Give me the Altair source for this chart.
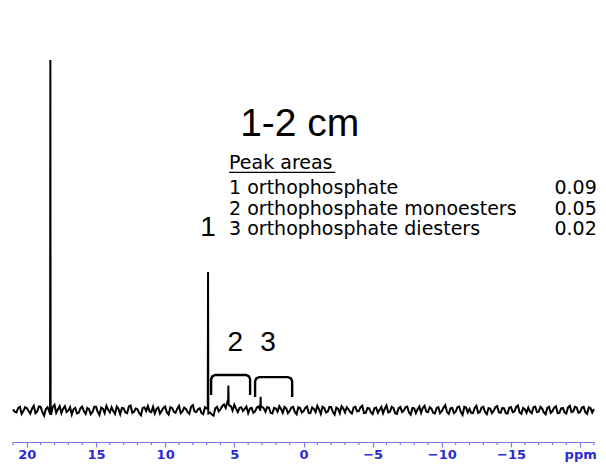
import altair as alt
import numpy as np
import pandas as pd

# ---------------- data ----------------
# baseline spectrum sampled every 0.25 ppm from 21 to -21 (intensity units: big peak = 100)
grid_start = 21.0
grid_step = 0.25
baseline_int = [
    0.2, -0.7, 0.9, -0.3,
    0.5, -1.0, 1.2, -0.4, 0.9, -1.6, 0.8, -1.4, 1.5, 0.2,
    -0.9, 1.1, -0.2, -1.3, 0.6, -0.8, 1.0, -1.1, 0.2, -0.6,
    0.9, -1.4, 0.4, 1.2, -0.7, -0.3, 1.0, -1.2, 0.5, -0.9,
    1.3, -0.5, 0.2, -1.5, 0.8, 1.1, -0.6, -1.0, 0.7, -0.2,
    1.0, -1.3, 0.6, -0.8, 1.2, -0.4, 0.3, -1.1, 1.4, -0.6,
    0.5, -1.2, 0.4, -0.7, -1.6, 0.9, 0.2, 1.6, 2.4, 1.1,
    1.5, -0.6, 0.8, 0.3, -0.9, 0.6, -0.4, 1.0, 0.9, -0.5,
    0.7, -1.0, 0.4, 1.1, -0.8, 0.5, -0.3, 0.9, -1.2, 0.6,
    -0.4, 1.0, -0.9, 0.3, 1.2, -1.1, 0.6, -0.5, 0.8, -1.3,
    0.4, 1.1, -0.7, 0.2, -1.0, 0.9, -0.3, 1.2, -0.8, 0.5,
    -1.2, 0.7, 0.1, -0.9, 1.3, -0.5, 0.6, -1.1, 0.9, -0.2,
    1.0, -1.3, 0.5, 0.2, -0.8, 1.2, -0.6, 0.4, -1.0, 0.8,
    -0.3, 1.4, -1.1, 0.6, -0.5, 1.0, -1.4, 0.7, 0.3, -0.9,
    1.2, -0.6, 0.9, -1.2, 0.4, -0.2, 1.1, -0.8, 0.5, -1.0,
    0.8, -0.4, 1.3, -1.1, 0.2, 0.7, -0.9, 1.0, -0.5, 0.4,
    -1.2, 0.9, -0.3, 1.1, -0.8, 0.6, -1.0, 1.2, -0.4, 0.7,
    -0.6, 0.9, -1.1, 0.5, 0.3,
]
# in-between noise samples (offset 0.125 ppm) for the denser baseline texture
baseline_mid = [
    -0.5, 0.6, -1.1, 0.8,
    -0.3, 0.4, -0.9, 1.0, -0.6, 0.3, -0.5, 0.9, -0.8, 1.1,
    0.4, -0.6, 0.8, 0.2, -1.0, 0.5, -0.4, 0.6, -1.2, 0.9,
    -0.5, 0.7, -0.9, 0.1, 0.8, -1.1, 0.3, 0.6, -0.7, 1.0,
    -0.8, 0.4, -0.9, 0.6, -0.3, -0.4, 0.9, 0.3, -1.0, 0.6,
    -0.7, 0.8, -0.5, 0.4, -0.9, 0.7, -0.6, 0.9, -0.4, 0.2,
    -0.9, 0.8, -1.0, -1.3, 0.5, -0.4, 1.1, 0.6, 1.3, -0.2,
    0.4, 0.6, -0.3, 1.0, 0.4, -0.8, 0.7, -0.2, 0.5, 0.8,
    -0.8, 0.6, -0.5, 0.3, 0.9, -0.9, 0.7, -0.6, 0.8, -0.7,
    0.6, -0.8, 0.7, -0.6, 0.2, 0.9, -0.7, 0.9, -0.6, 0.7,
    -0.9, 0.5, 0.8, -0.6, 0.7, -0.4, 0.8, -0.9, 0.6, -0.7,
    0.5, -0.8, 0.9, 0.4, -0.7, 0.9, -0.9, 0.5, -0.6, 0.8,
    -0.7, 0.6, -0.9, 1.0, 0.6, -0.5, 0.8, -0.8, 0.6, -0.9,
    0.7, -0.6, 0.5, -0.9, 0.8, -0.6, 0.9, -0.7, -0.8, 0.6,
    -0.8, 0.7, -0.6, 0.5, -0.9, 0.8, -0.7, 0.6, -0.9, 0.7,
    -0.6, 0.9, -0.7, 0.6, -0.8, -0.5, 0.8, -0.6, 0.9, -0.7,
    0.6, -0.8, 0.7, -0.9, 0.5, -0.7, 0.8, -0.6, 0.9, -0.8,
    0.7, -0.6, 0.8, -0.7,
]
# sharp peaks
peak_ppm = [18.32, 18.30, 18.28, 6.92, 6.90, 6.88, 5.45, 5.43, 5.41, 3.12, 3.10, 3.08]
peak_int = [0.6, 100.0, -0.8, 0.4, 39.4, -0.6, 2.2, 7.0, 1.8, 1.0, 3.8, 0.8]

# integration brackets: start ppm, end ppm, top, leg bottom
bracket_id = ["2", "3"]
bracket_x1 = [6.68, 3.50]
bracket_x2 = [3.86, 0.82]
bracket_top = [10.0, 9.4]
bracket_bottom = [4.3, 3.7]

# peak number labels
peak_labels = ["1", "2", "3"]
peak_label_ppm = [6.90, 4.94, 2.56]
peak_label_int = [52.0, 19.1, 19.1]

# text block
title_text = "1-2 cm"
title_ppm, title_int = 4.58, 81.7
header_text = "Peak areas"
header_ppm, header_int = 5.38, 70.6
underline_x = [5.38, -2.3]
underline_int = 67.9
item_names = ["1 orthophosphate", "2 orthophosphate monoesters", "3 orthophosphate diesters"]
item_values = ["0.09", "0.05", "0.02"]
item_int = [63.4, 57.4, 51.6]
item_ppm = 5.38
value_ppm = -21.2

major_ticks = [20, 15, 10, 5, 0, -5, -10, -15, -20]
minor_ticks = [v for v in range(-21, 22) if v % 5 != 0]

# ---------------- frames ----------------
n = len(baseline_int)
grid_ppm = list(grid_start - grid_step * np.arange(n))
mid_ppm = list(grid_start - grid_step * (np.arange(len(baseline_mid)) + 0.5))
spec = pd.DataFrame({
    "ppm": grid_ppm + mid_ppm + peak_ppm,
    "intensity": baseline_int + baseline_mid + peak_int,
}).sort_values("ppm").reset_index(drop=True)
spec["order"] = np.arange(len(spec))

rows = []
for b, x1, x2, t, bt in zip(bracket_id, bracket_x1, bracket_x2, bracket_top, bracket_bottom):
    pts = [(x1, bt), (x1, t - 1.2), (x1 - 0.08, t - 0.4), (x1 - 0.3, t),
           (x2 + 0.3, t), (x2 + 0.08, t - 0.4), (x2, t - 1.2), (x2, bt)]
    for k, (px, py) in enumerate(pts):
        rows.append({"b": b, "ppm": px, "intensity": py, "k": k})
brackets = pd.DataFrame(rows)

labels_df = pd.DataFrame({"t": peak_labels, "ppm": peak_label_ppm, "intensity": peak_label_int})
title_df = pd.DataFrame({"t": [title_text], "ppm": [title_ppm], "intensity": [title_int]})
header_df = pd.DataFrame({"t": [header_text], "ppm": [header_ppm], "intensity": [header_int]})
ul_df = pd.DataFrame({"ppm": [underline_x[0]], "ppm2": [underline_x[1]], "intensity": [underline_int]})
items_df = pd.DataFrame({"t": item_names, "ppm": [item_ppm] * 3, "intensity": item_int})
vals_df = pd.DataFrame({"t": item_values, "ppm": [value_ppm] * 3, "intensity": item_int})
minor_df = pd.DataFrame({"ppm": minor_ticks})

# ---------------- scales ----------------
xs = alt.Scale(domain=[21, -21], nice=False, zero=False)
ys = alt.Scale(domain=[-9.14, 105.7], nice=False, zero=False)

AXIS_BLUE = "#7c7ce8"
label_expr = ("datum.value === -20 ? 'ppm' : "
              "(datum.value < 0 ? '\u2212' + abs(datum.value) : '' + datum.value)")

x_axis = alt.Axis(
    values=major_ticks, labelExpr=label_expr, title=None, grid=False,
    domainColor=AXIS_BLUE, domainWidth=1.2,
    tickColor=AXIS_BLUE, tickWidth=1.2, tickSize=5,
    labelColor="#2b2bd6", labelFont="DejaVu Sans", labelFontWeight="bold", labelFontSize=13,
    labelPadding=1, labelOverlap=False, labelBound=False, labelFlush=False,
)

X = alt.X("ppm:Q", scale=xs, axis=x_axis)
Y = alt.Y("intensity:Q", scale=ys, axis=None)

line = alt.Chart(spec).mark_line(color="black", strokeWidth=2, clip=False).encode(
    x=X, y=Y, order="order:Q")

minor = alt.Chart(minor_df).mark_rule(color=AXIS_BLUE, strokeWidth=1.2).encode(
    x=alt.X("ppm:Q", scale=xs), y=alt.value(402), y2=alt.value(405))

br = alt.Chart(brackets).mark_line(color="black", strokeWidth=2.4).encode(
    x=alt.X("ppm:Q", scale=xs), y=alt.Y("intensity:Q", scale=ys), detail="b:N", order="k:Q")

lab = alt.Chart(labels_df).mark_text(font="Liberation Sans", fontSize=28, align="center",
                                    baseline="middle", color="black").encode(
    x=alt.X("ppm:Q", scale=xs), y=alt.Y("intensity:Q", scale=ys), text="t:N")

ttl = alt.Chart(title_df).mark_text(font="Liberation Sans", fontSize=39, align="left",
                                   baseline="middle", color="black").encode(
    x=alt.X("ppm:Q", scale=xs), y=alt.Y("intensity:Q", scale=ys), text="t:N")

TXT_FONT = "DejaVu Sans"
TXT_SIZE = 19

hdr = alt.Chart(header_df).mark_text(font=TXT_FONT, fontSize=TXT_SIZE, align="left",
                                    baseline="middle", color="black").encode(
    x=alt.X("ppm:Q", scale=xs), y=alt.Y("intensity:Q", scale=ys), text="t:N")

ul = alt.Chart(ul_df).mark_rule(color="black", strokeWidth=1.2).encode(
    x=alt.X("ppm:Q", scale=xs), x2="ppm2:Q", y=alt.Y("intensity:Q", scale=ys))

items = alt.Chart(items_df).mark_text(font=TXT_FONT, fontSize=TXT_SIZE, align="left",
                                     baseline="middle", color="black").encode(
    x=alt.X("ppm:Q", scale=xs), y=alt.Y("intensity:Q", scale=ys), text="t:N")

vals = alt.Chart(vals_df).mark_text(font=TXT_FONT, fontSize=TXT_SIZE, align="right",
                                   baseline="middle", color="black").encode(
    x=alt.X("ppm:Q", scale=xs), y=alt.Y("intensity:Q", scale=ys), text="t:N")

chart = alt.layer(line, minor, br, lab, ttl, hdr, ul, items, vals).properties(
    width=581, height=402,
    autosize=alt.AutoSizeParams(type="none"),
    padding={"left": 5, "right": 4, "top": 32, "bottom": 23},
    background="white",
).configure_view(stroke=None)

chart.save("out.html", embed_options={"renderer": "svg", "actions": False})
